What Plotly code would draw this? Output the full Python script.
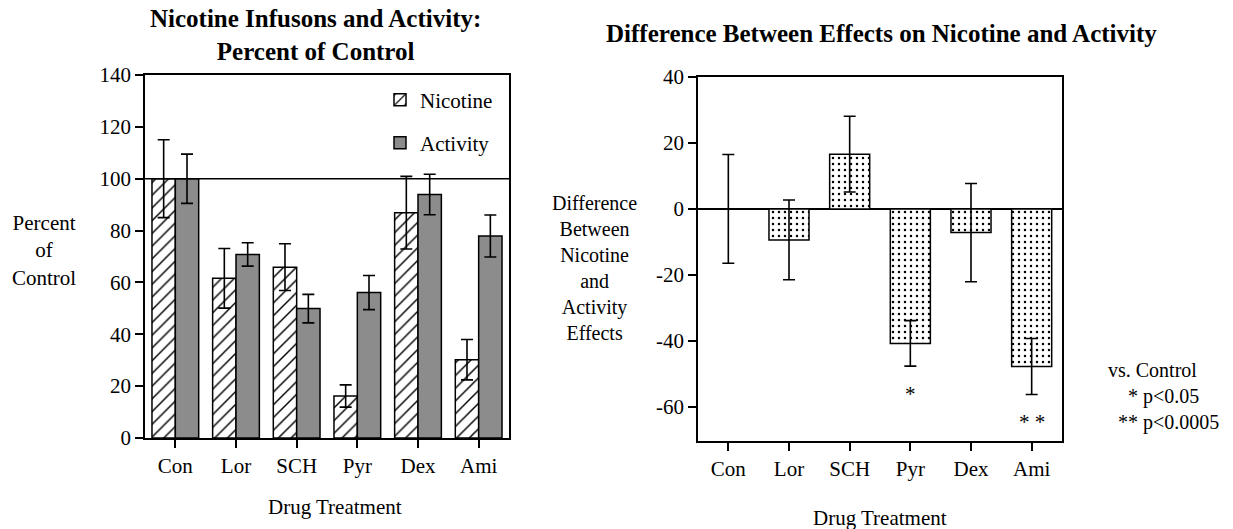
import plotly.graph_objects as go

W, H = 1233, 529

categories = ["Con", "Lor", "SCH", "Pyr", "Dex", "Ami"]
nicotine = [100, 61.6, 65.9, 16.2, 86.9, 30.2]
nicotine_err = [15, 11.5, 9, 4.3, 14, 7.8]
activity = [100, 70.8, 49.9, 56.1, 93.9, 77.9]
activity_err = [9.5, 4.5, 5.5, 6.6, 7.8, 8.1]
difference = [0, -9.4, 16.6, -40.8, -7.2, -47.8]
difference_err = [16.5, 12.1, 11.5, 6.9, 14.9, 8.5]
left_yticks = [0, 20, 40, 60, 80, 100, 120, 140]
right_yticks = [-60, -40, -20, 0, 20, 40]
right_yticklabels = ["-60", "-40", "-20", "0", "20", "40"]
sig_labels = {"Pyr": ("*", -56), "Ami": ("* *", -64.5)}

FONT = "Liberation Serif, Times New Roman, serif"
BLACK = "black"


def px_x(p):
    return p / W


def px_y(p):
    return 1 - p / H


fig = go.Figure()

err_style = dict(type="data", color=BLACK, thickness=1.6, width=6, visible=True)

fig.add_trace(go.Bar(
    x=categories, y=nicotine, name="Nicotine",
    error_y=dict(array=nicotine_err, **err_style),
    marker=dict(color="white", line=dict(color=BLACK, width=1.5),
                pattern=dict(shape="/", fgcolor=BLACK, bgcolor="white", fgopacity=1,
                             size=9, solidity=0.16)),
    xaxis="x", yaxis="y", legend="legend",
))
fig.add_trace(go.Bar(
    x=categories, y=activity, name="Activity",
    error_y=dict(array=activity_err, **err_style),
    marker=dict(color="#8c8c8c", line=dict(color=BLACK, width=1.5)),
    xaxis="x", yaxis="y", legend="legend2",
))
fig.add_trace(go.Bar(
    x=categories, y=difference, name="Difference", showlegend=False, width=0.66,
    error_y=dict(array=difference_err, **err_style),
    marker=dict(color="white", line=dict(color=BLACK, width=1.5),
                pattern=dict(shape=".", fgcolor=BLACK, bgcolor="white", fgopacity=1,
                             size=6, solidity=0.13)),
    xaxis="x2", yaxis="y2",
))

axis_common = dict(
    showline=True, linecolor=BLACK, linewidth=1.5, mirror=True,
    ticks="outside", ticklen=8, tickwidth=1.5, tickcolor=BLACK,
    showgrid=False, zeroline=False, automargin=False,
    tickfont=dict(family=FONT, size=21, color=BLACK),
)

fig.update_layout(
    template="none",
    width=W, height=H, autosize=False,
    margin=dict(l=0, r=0, t=0, b=0, pad=0),
    paper_bgcolor="white", plot_bgcolor="white",
    barmode="group", bargap=0.23, bargroupgap=0,
    font=dict(family=FONT, size=21, color=BLACK),
    xaxis=dict(domain=[px_x(145), px_x(509)], anchor="y", type="category",
               range=[-0.5, 5.5], **axis_common),
    yaxis=dict(domain=[px_y(438), px_y(75)], anchor="x", range=[0, 140],
               tickvals=left_yticks, **axis_common),
    xaxis2=dict(domain=[px_x(698), px_x(1062)], anchor="y2", type="category",
                range=[-0.5, 5.5], **axis_common),
    yaxis2=dict(domain=[px_y(441), px_y(77)], anchor="x2", range=[-70.4, 40],
                tickvals=right_yticks, ticktext=right_yticklabels,
                **{**axis_common, "zeroline": True}, zerolinecolor=BLACK, zerolinewidth=1.5),
    legend=dict(x=px_x(380), y=px_y(100), xanchor="left", yanchor="middle",
                bgcolor="rgba(0,0,0,0)", borderwidth=0,
                font=dict(family=FONT, size=21, color=BLACK)),
    legend2=dict(x=px_x(380), y=px_y(143), xanchor="left", yanchor="middle",
                 bgcolor="rgba(0,0,0,0)", borderwidth=0,
                 font=dict(family=FONT, size=21, color=BLACK)),
    showlegend=True,
)

fig.add_shape(type="line", xref="x domain", x0=0, x1=1, yref="y", y0=100, y1=100,
              line=dict(color=BLACK, width=1.5), layer="above")


def ann(text, x, y, size=21, bold=False, xanchor="center", align="center",
        xref="paper", yref="paper"):
    fig.add_annotation(
        text=f"<b>{text}</b>" if bold else text,
        x=x, y=y, xref=xref, yref=yref, xanchor=xanchor, yanchor="middle",
        align=align, showarrow=False, font=dict(family=FONT, size=size, color=BLACK),
    )


# Titles
ann("Nicotine Infusons and Activity:<br>Percent of Control", px_x(315), px_y(35),
    size=25, bold=True)
ann("Difference Between Effects on Nicotine and Activity", px_x(881), px_y(34), size=25, bold=True)

# Axis titles
ann("Drug Treatment", px_x(335), px_y(507))
ann("Drug Treatment", px_x(880), px_y(518))
ann("Percent<br>of<br>Control", px_x(44), px_y(250), size=21)
ann("Difference<br>Between<br>Nicotine<br>and<br>Activity<br>Effects",
    px_x(594), px_y(268), size=20)

# Significance note
ann("vs. Control<br>&nbsp;&nbsp;&nbsp;&nbsp;* p&lt;0.05<br>&nbsp;&nbsp;** p&lt;0.0005",
    px_x(1106), px_y(396), size=20, xanchor="left", align="left")

for cat, (txt, yv) in sig_labels.items():
    ann(txt, cat, yv, xref="x2", yref="y2")

fig.write_html("out.html")
